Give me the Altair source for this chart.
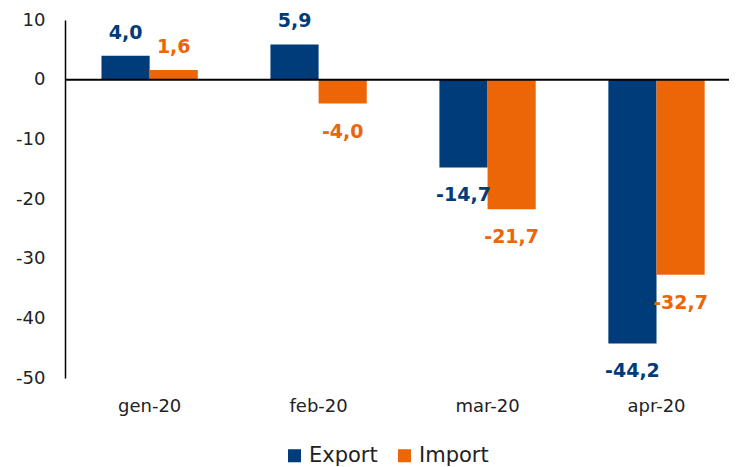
import altair as alt
import pandas as pd

months = ["gen-20", "feb-20", "mar-20", "apr-20"]
series = ["Export", "Import"]
export_vals = [4.0, 5.9, -14.7, -44.2]
import_vals = [1.6, -4.0, -21.7, -32.7]
colors = ["#003B7A", "#EC6608"]
y_ticks = [-50, -40, -30, -20, -10, 0, 10]

rows = []
for m, e, i in zip(months, export_vals, import_vals):
    rows.append(dict(month=m, series="Export", value=e))
    rows.append(dict(month=m, series="Import", value=i))
df = pd.DataFrame(rows)
df["label"] = df["value"].map(lambda v: f"{v:.1f}".replace(".", ","))

FONT = "DejaVu Sans"

x_enc = alt.X(
    "month:N", sort=months,
    scale=alt.Scale(paddingInner=0.43, paddingOuter=0.18, align=0.6),
    axis=alt.Axis(title=None, domain=False, ticks=False, labelAngle=0,
                  labelPadding=19, labelFontSize=18, labelColor="#222222",
                  labelFont=FONT),
)
xo_enc = alt.XOffset("series:N", sort=series,
                     scale=alt.Scale(paddingInner=0, paddingOuter=0))
y_enc = alt.Y(
    "value:Q",
    scale=alt.Scale(domain=[-50, 10], nice=False, zero=False),
    axis=alt.Axis(title=None, values=y_ticks, ticks=False, grid=False,
                  domainColor="black", domainWidth=1.5, labelPadding=20,
                  labelFontSize=18, labelColor="#222222", labelFont=FONT,
                  labelExpr="datum.value + ''"),
)
color_enc = alt.Color(
    "series:N", sort=series,
    scale=alt.Scale(domain=series, range=colors),
    legend=alt.Legend(orient="none", legendX=219, legendY=425,
                      direction="horizontal", title=None, symbolType="square",
                      symbolSize=170, symbolStrokeWidth=0, labelFontSize=21,
                      labelFont=FONT, labelColor="#222222", columnPadding=16,
                      labelOffset=4),
)

base = alt.Chart(df)

bars = base.mark_bar().encode(x=x_enc, xOffset=xo_enc, y=y_enc, color=color_enc)

text_color = alt.Color("series:N", sort=series,
                       scale=alt.Scale(domain=series, range=colors), legend=None)

pos_text = base.transform_filter("datum.value >= 0").mark_text(
    fontWeight="bold", fontSize=19, font=FONT, baseline="middle", dy=-23
).encode(x=x_enc, xOffset=xo_enc, y=y_enc, text="label:N", color=text_color)

neg_text = base.transform_filter("datum.value < 0").mark_text(
    fontWeight="bold", fontSize=19, font=FONT, baseline="middle", dy=28
).encode(x=x_enc, xOffset=xo_enc, y=y_enc, text="label:N", color=text_color)

zero = alt.Chart(pd.DataFrame({"z": [0]})).mark_rule(
    color="black", strokeWidth=2
).encode(y=alt.Y("z:Q"))

chart = alt.layer(bars, zero, pos_text, neg_text).properties(
    width=664, height=358,
    padding={"left": 57, "top": 12, "right": 0, "bottom": 89},
    autosize="none",
).configure_view(stroke=None)

chart.save("out.html", embed_options={"renderer": "svg", "actions": False})
